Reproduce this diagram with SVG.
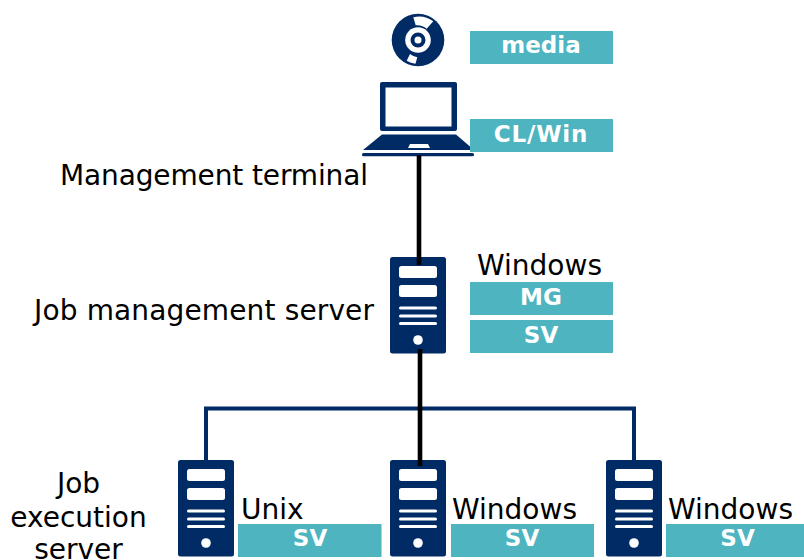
<svg xmlns="http://www.w3.org/2000/svg" width="804" height="560" viewBox="0 0 804 560">
<style>
.navy{fill:#002b65}
.w{fill:#fff}
.tag{fill:#4db4c0}
.t{font-family:"DejaVu Sans",Verdana,sans-serif;font-size:28px;fill:#000}
.b{font-family:"DejaVu Sans",Verdana,sans-serif;font-size:23px;font-weight:700;fill:#fff;text-anchor:middle}
</style>
<defs>
<g id="srv">
<rect class="navy" x="0" y="0" width="56" height="96.500" rx="2.500"/>
<rect class="w" x="9" y="9" width="38" height="12" rx="2.500"/>
<rect class="w" x="9" y="28" width="38" height="12" rx="2.500"/>
<rect class="w" x="9" y="49.500" width="38" height="3" rx="1.500"/>
<rect class="w" x="9" y="57.500" width="38" height="3" rx="1.500"/>
<rect class="w" x="9" y="65" width="38" height="3" rx="1.500"/>
<circle class="w" cx="28" cy="83" r="4.800"/>
</g>
</defs>
<g id="connectors" fill="none">
<path d="M206 461V408.500H634V461" stroke="#002b65" stroke-width="4"/>
</g>
<g id="media">
<circle class="navy" cx="418" cy="40" r="26.300"/>
<path class="w" d="M413.300 17.300A24 24 0 0 1 433.300 21.300L426.700 28.700A14.500 14.500 0 0 0 415.700 25.300Z"/>
<path class="w" d="M406.700 60.700A24 24 0 0 0 415.500 63.800L417.300 57.300A16 16 0 0 1 410 54Z"/>
<circle class="w" cx="418" cy="40" r="12.800"/>
<circle class="navy" cx="418" cy="40" r="7.500"/>
<circle class="w" cx="418" cy="40" r="3.500"/>
<rect class="tag" x="470" y="31" width="143" height="33"/>
<text class="b" x="541" y="52.500">media</text>
</g>
<g id="terminal">
<rect class="navy" x="380" y="82" width="77" height="49" rx="2"/>
<rect class="w" x="385.500" y="87.500" width="66" height="39"/>
<path class="navy" d="M382 134.500H456L474 150H363Z"/>
<path class="w" d="M410 144H428L430 148H408Z"/>
<rect class="navy" x="362" y="153" width="112" height="3.200" rx="1.500"/>
<rect class="tag" x="470" y="119" width="143" height="33"/>
<text class="b" x="541" y="141.500" letter-spacing="0.800">CL/Win</text>
<text class="t" x="60" y="184.500" textLength="308">Management terminal</text>
</g>
<g id="job-management-server">
<use href="#srv" x="390" y="257"/>
<text class="t" x="34" y="319.500" textLength="340">Job management server</text>
<text class="t" x="477" y="274.500">Windows</text>
<rect class="tag" x="470" y="282" width="143" height="33"/>
<text class="b" x="541" y="304.500">MG</text>
<rect class="tag" x="470" y="320" width="143" height="33"/>
<text class="b" x="541" y="342.500">SV</text>
</g>
<g id="exec-unix">
<use href="#srv" x="178" y="460"/>
<text class="t" x="241" y="518.500">Unix</text>
<rect class="tag" x="238" y="524" width="143.500" height="33"/>
<text class="b" x="310" y="545.500">SV</text>
</g>
<g id="exec-windows-1">
<use href="#srv" x="390" y="460"/>
<text class="t" x="452" y="518.500">Windows</text>
<rect class="tag" x="451" y="524" width="143" height="33"/>
<text class="b" x="522" y="545.500">SV</text>
</g>
<g id="exec-windows-2">
<use href="#srv" x="606" y="460"/>
<text class="t" x="668" y="518.500">Windows</text>
<rect class="tag" x="666" y="524" width="138" height="33"/>
<text class="b" x="737.500" y="545.500">SV</text>
</g>
<g id="exec-label">
<text class="t" x="78.500" y="493" text-anchor="middle">Job</text>
<text class="t" x="78.500" y="527" text-anchor="middle">execution</text>
<text class="t" x="78.500" y="559" text-anchor="middle">server</text>
</g>
<g id="links" fill="none" stroke="#000" stroke-width="4.600">
<path d="M419 155V265"/>
<path d="M420 349V466"/>
</g>
</svg>
